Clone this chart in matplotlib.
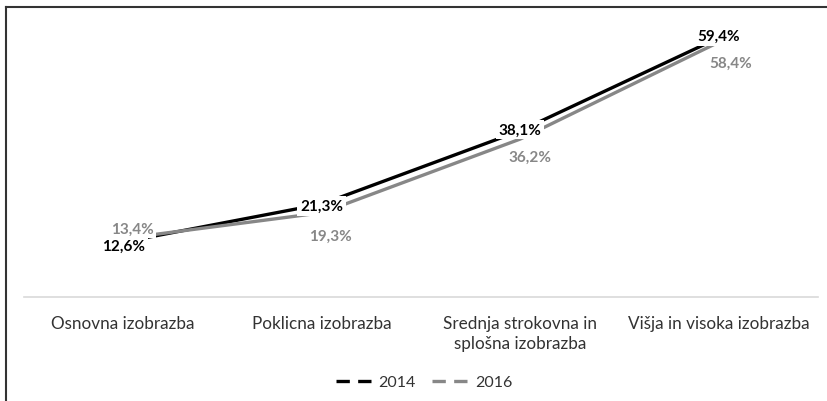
import numpy as np
import matplotlib.pyplot as plt
from matplotlib.lines import Line2D

plt.rcParams['font.family'] = ['Lato', 'DejaVu Sans']

categories = ['Osnovna izobrazba', 'Poklicna izobrazba',
              'Srednja strokovna in\nsplošna izobrazba', 'Višja in visoka izobrazba']
val_2014 = [12.6, 21.3, 38.1, 59.4]
val_2016 = [13.4, 19.3, 36.2, 58.4]
years = ['2014', '2016']

c14 = '#000000'
c16 = '#878787'

fig = plt.figure(figsize=(8.28, 4.02), dpi=100)
ax = fig.add_axes([24/828, 104/402, 794/828, 288/402])

x = np.arange(len(categories))
ax.plot(x, val_2014, color=c14, lw=2.4, solid_capstyle='butt', zorder=2)
ax.plot(x, val_2016, color=c16, lw=2.4, solid_capstyle='butt', zorder=3)

ax.set_xlim(-0.5, len(categories) - 0.5)
ax.set_ylim(0, 66)
ax.set_yticks([])
for s in ['top', 'right', 'left']:
    ax.spines[s].set_visible(False)
ax.spines['bottom'].set_color('#d9d9d9')
ax.spines['bottom'].set_linewidth(1.2)
ax.set_xticks(x)
ax.set_xticklabels(categories, fontsize=12.3, color='#333333', linespacing=1.3)
ax.tick_params(axis='x', length=0, pad=13)

def pct(v):
    return f'{v:.1f}%'.replace('.', ',')

box = dict(fc='white', ec='none', pad=2)
off14 = [(0, -4), (0, -2), (0, 1), (0, 2)]
off16 = [(9, 10), (9, -23), (10, -18), (12, -21)]
for i in range(len(x)):
    ax.annotate(pct(val_2014[i]), (x[i], val_2014[i]), xytext=off14[i],
                textcoords='offset pixels', ha='center', va='center',
                fontsize=11, fontweight='bold', color=c14, bbox=box, zorder=5)
    ax.annotate(pct(val_2016[i]), (x[i], val_2016[i]), xytext=off16[i],
                textcoords='offset pixels', ha='center', va='center',
                fontsize=11, fontweight='bold', color=c16, bbox=box, zorder=4)

handles = [Line2D([], [], color=c14, lw=2.4, dashes=(4, 2.5)),
           Line2D([], [], color=c16, lw=2.4, dashes=(4, 2.5))]
fig.legend(handles, years, loc='center', bbox_to_anchor=(424/828, 1 - 383/402),
           ncol=2, frameon=False, fontsize=11.5, handlelength=2.6, handletextpad=0.1,
           columnspacing=1.0, labelcolor='#333333')

# outer frame (only top and left visible in the crop)
fig.add_artist(Line2D([6/828, 6/828], [0, 1 - 8/402], color='#333333', lw=1.5))
fig.add_artist(Line2D([6/828, 1], [1 - 8/402, 1 - 8/402], color='#333333', lw=1.5))

fig.savefig('out.png', dpi=100)
